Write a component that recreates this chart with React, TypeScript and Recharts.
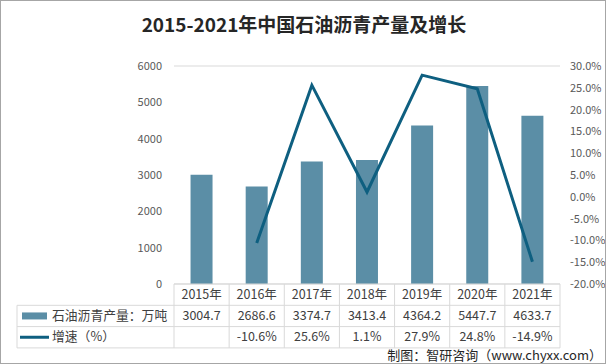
import React from 'react';
import { ComposedChart, Bar, Line, XAxis, YAxis, CartesianGrid } from 'recharts';

const years = ['2015年', '2016年', '2017年', '2018年', '2019年', '2020年', '2021年'];
const output = [3004.7, 2686.6, 3374.7, 3413.4, 4364.2, 5447.7, 4633.7];
const growth: (number | null)[] = [null, -10.6, 25.6, 1.1, 27.9, 24.8, -14.9];
const leftTicks = [0, 1000, 2000, 3000, 4000, 5000, 6000];
const rightTicks = [-20, -15, -10, -5, 0, 5, 10, 15, 20, 25, 30];

const seriesBarName = '石油沥青产量：万吨';
const seriesLineName = '增速（%）';

const data = years.map((y, i) => ({ year: y, output: output[i], growth: growth[i] }));

const W = 606;
const H = 364;
const M = { top: 65, right: 0, bottom: 16, left: 0 };
const LEFT_W = 173;
const RIGHT_W = 47;
const XH = 65;
const PLOT_W = W - M.left - M.right - LEFT_W - RIGHT_W;
const PLOT_BOTTOM = H - M.bottom - XH;
const ROW = 21.3;
const BAR_COLOR = '#5b8ea6';
const LINE_COLOR = '#0e5f80';
const GRID = '#d9d9d9';
const FONT = '"Noto Sans CJK SC", "Noto Sans", sans-serif';
const TXT = '#404040';

const TableTick = (props: any) => {
  const { x, payload } = props;
  const i = payload.index;
  const half = PLOT_W / years.length / 2;
  const y0 = PLOT_BOTTOM;
  const g = growth[i];
  const tableLeft = 16;
  const tableRight = M.left + LEFT_W + PLOT_W;
  return (
    <g fontFamily={FONT} fontSize={12.5} fill={TXT}>
      <line x1={x - half} x2={x - half} y1={y0} y2={y0 + ROW * 3} stroke={GRID} />
      {i === years.length - 1 && (
        <line x1={x + half} x2={x + half} y1={y0} y2={y0 + ROW * 3} stroke={GRID} />
      )}
      <text x={x} y={y0 + ROW * 0.5 + 4.5} textAnchor="middle">{payload.value}</text>
      <text x={x} y={y0 + ROW * 1.5 + 4.5} textAnchor="middle">{output[i].toFixed(1)}</text>
      {g !== null && (
        <text x={x} y={y0 + ROW * 2.5 + 4} textAnchor="middle">{g.toFixed(1) + '%'}</text>
      )}
      {i === 0 && (
        <g>
          <line x1={tableLeft} x2={tableRight} y1={y0 + ROW} y2={y0 + ROW} stroke={GRID} />
          <line x1={tableLeft} x2={tableRight} y1={y0 + ROW * 2} y2={y0 + ROW * 2} stroke={GRID} />
          <line x1={tableLeft} x2={tableRight} y1={y0 + ROW * 3} y2={y0 + ROW * 3} stroke={GRID} />
          <line x1={tableLeft} x2={tableLeft} y1={y0 + ROW} y2={y0 + ROW * 3} stroke={GRID} />
          <rect x={21} y={y0 + ROW * 1.5 - 3.5} width={25} height={7} fill={BAR_COLOR} />
          <line x1={19} x2={48} y1={y0 + ROW * 2.5} y2={y0 + ROW * 2.5} stroke={LINE_COLOR} strokeWidth={3} />
          <text x={51} y={y0 + ROW * 1.5 + 4.5} textAnchor="start" fontSize={12.8}>{seriesBarName}</text>
          <text x={51} y={y0 + ROW * 2.5 + 4} textAnchor="start" fontSize={12.8}>{seriesLineName}</text>
        </g>
      )}
    </g>
  );
};

export default function App() {
  return (
    <div style={{ position: 'absolute', left: 0, top: 0, width: W, height: H, background: '#fff', boxSizing: 'border-box', border: '1px solid #a6a6a6', overflow: 'hidden' }}>
      <div style={{ position: 'absolute', left: 0, top: 9, width: W, textAlign: 'center', fontFamily: FONT, fontWeight: 'bold', fontSize: 19, color: '#262626' }}>
        2015-2021年中国石油沥青产量及增长
      </div>
      <div style={{ position: 'absolute', left: 0, top: 0 }}>
        <ComposedChart width={W} height={H} data={data} margin={M} barCategoryGap="30%">
          <CartesianGrid vertical={false} stroke={GRID} />
          <XAxis dataKey="year" height={XH} axisLine={{ stroke: GRID }} tickLine={false} tick={<TableTick />} interval={0} />
          <YAxis yAxisId="left" width={LEFT_W} domain={[0, 6000]} ticks={leftTicks} axisLine={false} tickLine={false} tickMargin={6}
            tick={{ fill: '#595959', fontSize: 11, fontFamily: FONT }} />
          <YAxis yAxisId="right" orientation="right" width={RIGHT_W} domain={[-20, 30]} ticks={rightTicks} axisLine={false} tickLine={false} tickMargin={4}
            tickFormatter={(v: number) => v.toFixed(1) + '%'} tick={{ fill: '#595959', fontSize: 11, fontFamily: FONT }} />
          <Bar yAxisId="left" dataKey="output" fill={BAR_COLOR} isAnimationActive={false} />
          <Line yAxisId="right" dataKey="growth" stroke={LINE_COLOR} strokeWidth={3} dot={false} isAnimationActive={false} connectNulls={false} />
        </ComposedChart>
      </div>
      <div style={{ position: 'absolute', right: 3, top: 347, fontFamily: FONT, fontSize: 13, lineHeight: '14px', color: '#262626', whiteSpace: 'nowrap' }}>
        制图：智研咨询（www.chyxx.com）
      </div>
    </div>
  );
}
